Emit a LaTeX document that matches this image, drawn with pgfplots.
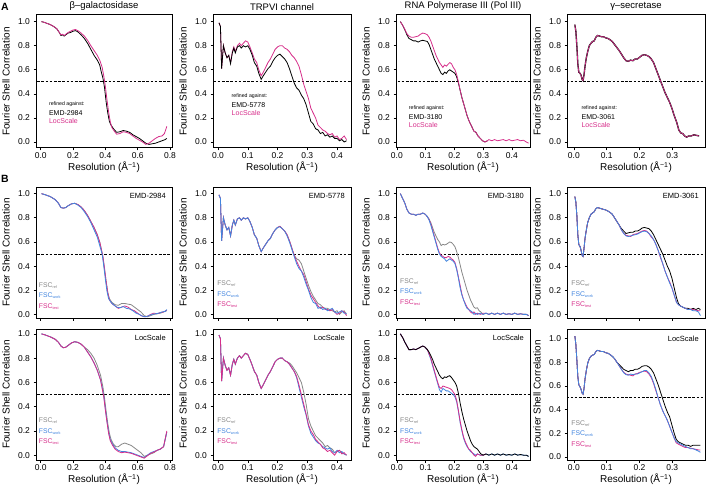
\documentclass[border=0pt]{standalone}
\usepackage{fontspec}
\setmainfont{Liberation Sans}
\usepackage{pgfplots}
\pgfplotsset{compat=1.18}

\definecolor{fscpink}{RGB}{214,46,138}
\definecolor{fscblue}{RGB}{66,133,222}
\definecolor{fscgray}{RGB}{135,135,135}

\pgfplotsset{
  fsc/.style={
    scale only axis,
    anchor=north west,
    axis line style={line width=1pt},
    tick align=outside,
    major tick length=2.5pt,
    tick style={black, line width=0.6pt},
    tick pos=left,
    ytick={0,0.2,0.4,0.6,0.8,1.0},
    /pgf/number format/assume math mode=true,
    xticklabel style={/pgf/number format/fixed,/pgf/number format/fixed zerofill,/pgf/number format/precision=1, yshift=1pt},
    yticklabel style={/pgf/number format/fixed,/pgf/number format/fixed zerofill,/pgf/number format/precision=1},
    ticklabel style={font=\fontsize{8.5}{9}\selectfont},
    label style={font=\fontsize{10}{11}\selectfont},
    title style={font=\fontsize{9.5}{11}\selectfont, yshift=-5pt},
    ylabel={Fourier Shell Correlation},
    ylabel style={yshift=1.5pt},
    xlabel style={yshift=4pt},
    every axis plot/.append style={line width=0.8pt, mark=none},
    clip=true,
  },
  col1/.style={at={(36pt,#1)}, width=136pt, xmin=-0.029, xmax=0.812, xtick={0,0.2,0.4,0.6,0.8}},
  col2/.style={at={(213pt,#1)}, width=138pt, xmin=-0.017, xmax=0.447, xtick={0,0.1,0.2,0.3,0.4}},
  col3/.style={at={(396pt,#1)}, width=134pt, xmin=-0.003, xmax=0.463, xtick={0,0.1,0.2,0.3,0.4}},
  col4/.style={at={(567pt,#1)}, width=138pt, xmin=-0.021, xmax=0.40, xtick={0,0.1,0.2,0.3}},
  rowA/.style={height=133pt, ymin=-0.05, ymax=1.055, xlabel={Resolution (Å\textsuperscript{−1})}},
  rowB/.style={height=131pt, ymin=-0.03, ymax=1.055, xticklabels={}},
  rowC/.style={height=131pt, ymin=-0.04, ymax=1.04, xlabel={Resolution (Å\textsuperscript{−1})}},
  half/.style={black, line width=1pt, dash pattern=on 2.6pt off 1.6pt},
}
\newcommand{\refd}[2]{%
  \node[anchor=west, font=\fontsize{5.2}{6}\selectfont] at (rel axis cs:#1,#2) {refined against:};}
\newcommand{\fscleg}[2]{%
  \node[anchor=west, inner sep=0pt, text=fscgray, font=\fontsize{6.8}{7}\selectfont] at (rel axis cs:#1,#2+0.16) {FSC\textsubscript{\fontsize{3.8}{4}\selectfont ref}};
  \node[anchor=west, inner sep=0pt, text=fscblue, font=\fontsize{6.8}{7}\selectfont] at (rel axis cs:#1,#2+0.08) {FSC\textsubscript{\fontsize{3.8}{4}\selectfont work}};
  \node[anchor=west, inner sep=0pt, text=fscpink, font=\fontsize{6.8}{7}\selectfont] at (rel axis cs:#1,#2) {FSC\textsubscript{\fontsize{3.8}{4}\selectfont test}};}

\begin{document}
\begin{tikzpicture}
\useasboundingbox (0,0) rectangle (708pt,-486pt);
\node[anchor=north west, inner sep=0pt, font=\bfseries\fontsize{10.5}{11}\selectfont] at (1pt,-3pt) {A};
\node[anchor=north west, inner sep=0pt, font=\bfseries\fontsize{10.5}{11}\selectfont] at (1pt,-175pt) {B};

%% ---------------- row A ----------------
\begin{axis}[fsc, col1=-15pt, rowA, title={β–galactosidase}]
\addplot[half] coordinates {(-0.1,0.5)(1,0.5)};
\addplot[black] coordinates {(0.005,1.0)(0.02,0.995)(0.04,0.985)(0.06,0.975)(0.08,0.96)(0.1,0.94)(0.115,0.91)(0.125,0.885)(0.135,0.89)(0.145,0.88)(0.155,0.89)(0.17,0.905)(0.185,0.91)(0.2,0.92)(0.215,0.925)(0.23,0.915)(0.25,0.89)(0.27,0.86)(0.29,0.82)(0.31,0.77)(0.33,0.72)(0.35,0.68)(0.365,0.64)(0.375,0.58)(0.385,0.53)(0.395,0.45)(0.405,0.33)(0.415,0.24)(0.425,0.17)(0.435,0.14)(0.45,0.11)(0.47,0.08)(0.49,0.085)(0.51,0.095)(0.53,0.09)(0.55,0.08)(0.57,0.06)(0.59,0.045)(0.61,0.03)(0.63,0.01)(0.65,-0.01)(0.67,-0.02)(0.69,-0.015)(0.71,-0.01)(0.73,0.0)(0.75,0.01)(0.77,0.02)(0.78,0.03)};
\addplot[fscpink] coordinates {(0.005,1.0)(0.02,0.995)(0.04,0.985)(0.06,0.975)(0.08,0.96)(0.1,0.94)(0.115,0.91)(0.125,0.89)(0.135,0.895)(0.145,0.885)(0.155,0.895)(0.17,0.91)(0.185,0.92)(0.2,0.93)(0.215,0.935)(0.23,0.925)(0.25,0.905)(0.27,0.88)(0.29,0.845)(0.31,0.8)(0.33,0.76)(0.35,0.72)(0.365,0.68)(0.38,0.62)(0.39,0.55)(0.4,0.46)(0.41,0.35)(0.42,0.25)(0.43,0.17)(0.44,0.12)(0.455,0.09)(0.47,0.065)(0.49,0.07)(0.51,0.085)(0.53,0.08)(0.55,0.07)(0.57,0.05)(0.59,0.03)(0.61,0.015)(0.63,0.0)(0.65,-0.02)(0.67,-0.01)(0.69,0.01)(0.71,0.03)(0.73,0.045)(0.75,0.05)(0.765,0.07)(0.78,0.13)};
\refd{0.07}{0.33}
\node[anchor=west, font=\fontsize{7}{8}\selectfont] at (rel axis cs:0.07,0.265) {EMD-2984};
\node[anchor=west, text=fscpink, font=\fontsize{7}{8}\selectfont] at (rel axis cs:0.07,0.205) {LocScale};
\end{axis}

\begin{axis}[fsc, col2=-15pt, rowA, title={TRPVI channel}]
\addplot[half] coordinates {(-0.1,0.5)(1,0.5)};
\addplot[fscpink] coordinates {(0.003,0.99)(0.008,0.96)(0.012,0.61)(0.018,0.80)(0.024,0.74)(0.03,0.70)(0.036,0.72)(0.042,0.66)(0.048,0.75)(0.053,0.79)(0.058,0.75)(0.065,0.8)(0.072,0.82)(0.078,0.8)(0.085,0.82)(0.092,0.84)(0.1,0.83)(0.107,0.79)(0.115,0.74)(0.122,0.69)(0.13,0.66)(0.137,0.6)(0.145,0.55)(0.152,0.58)(0.16,0.62)(0.168,0.66)(0.176,0.69)(0.184,0.73)(0.192,0.77)(0.2,0.79)(0.208,0.8)(0.216,0.8)(0.224,0.78)(0.232,0.77)(0.24,0.75)(0.248,0.72)(0.256,0.7)(0.264,0.67)(0.272,0.63)(0.28,0.56)(0.288,0.48)(0.296,0.42)(0.304,0.36)(0.312,0.28)(0.32,0.24)(0.328,0.2)(0.336,0.14)(0.344,0.12)(0.352,0.1)(0.36,0.09)(0.368,0.07)(0.376,0.06)(0.384,0.07)(0.392,0.04)(0.4,0.05)(0.408,0.02)(0.416,0.03)(0.424,0.05)(0.432,0.02)};
\addplot[black] coordinates {(0.003,0.99)(0.008,0.96)(0.012,0.61)(0.018,0.80)(0.024,0.74)(0.03,0.70)(0.036,0.72)(0.042,0.65)(0.048,0.74)(0.053,0.78)(0.058,0.74)(0.065,0.79)(0.072,0.8)(0.078,0.78)(0.085,0.8)(0.092,0.79)(0.1,0.8)(0.107,0.77)(0.115,0.72)(0.122,0.66)(0.13,0.63)(0.137,0.57)(0.145,0.52)(0.152,0.55)(0.16,0.58)(0.168,0.61)(0.176,0.63)(0.184,0.67)(0.192,0.70)(0.2,0.72)(0.208,0.73)(0.216,0.71)(0.224,0.69)(0.232,0.66)(0.24,0.61)(0.248,0.55)(0.256,0.49)(0.264,0.45)(0.272,0.43)(0.28,0.39)(0.288,0.36)(0.296,0.31)(0.304,0.24)(0.312,0.17)(0.32,0.15)(0.328,0.11)(0.336,0.1)(0.344,0.07)(0.352,0.08)(0.36,0.05)(0.368,0.06)(0.376,0.04)(0.384,0.05)(0.392,0.03)(0.4,0.03)(0.408,0.01)(0.416,0.02)(0.424,0.0)(0.432,0.01)};
\refd{0.11}{0.39}
\node[anchor=west, font=\fontsize{7}{8}\selectfont] at (rel axis cs:0.11,0.325) {EMD-5778};
\node[anchor=west, text=fscpink, font=\fontsize{7}{8}\selectfont] at (rel axis cs:0.11,0.265) {LocScale};
\end{axis}

\begin{axis}[fsc, col3=-15pt, rowA, title={RNA Polymerase III (Pol III)}]
\addplot[half] coordinates {(-0.1,0.5)(1,0.5)};
\addplot[black] coordinates {(0.012,1.0)(0.02,0.97)(0.028,0.93)(0.035,0.89)(0.042,0.86)(0.05,0.85)(0.058,0.84)(0.066,0.84)(0.074,0.83)(0.082,0.84)(0.09,0.845)(0.098,0.84)(0.106,0.835)(0.112,0.81)(0.118,0.77)(0.124,0.73)(0.13,0.69)(0.136,0.66)(0.142,0.63)(0.148,0.6)(0.154,0.57)(0.16,0.56)(0.166,0.58)(0.172,0.57)(0.178,0.59)(0.184,0.6)(0.19,0.59)(0.196,0.58)(0.202,0.57)(0.208,0.54)(0.214,0.49)(0.22,0.43)(0.226,0.37)(0.232,0.32)(0.238,0.27)(0.244,0.22)(0.25,0.18)(0.256,0.15)(0.262,0.12)(0.268,0.09)(0.275,0.08)(0.282,0.05)(0.29,0.03)(0.298,0.01)(0.306,0.0)(0.315,0.01)};
\addplot[fscpink] coordinates {(0.012,1.0)(0.02,0.97)(0.028,0.935)(0.035,0.9)(0.042,0.88)(0.05,0.87)(0.058,0.87)(0.066,0.875)(0.074,0.88)(0.082,0.895)(0.09,0.905)(0.098,0.9)(0.106,0.89)(0.112,0.87)(0.118,0.84)(0.124,0.8)(0.13,0.76)(0.136,0.72)(0.142,0.69)(0.148,0.66)(0.154,0.64)(0.16,0.62)(0.166,0.64)(0.172,0.63)(0.178,0.645)(0.184,0.66)(0.19,0.65)(0.196,0.62)(0.202,0.6)(0.208,0.56)(0.214,0.5)(0.22,0.43)(0.226,0.37)(0.232,0.32)(0.238,0.27)(0.244,0.22)(0.25,0.18)(0.256,0.15)(0.262,0.12)(0.268,0.09)(0.275,0.08)(0.282,0.05)(0.29,0.03)(0.298,0.01)(0.306,0.0)(0.315,0.01)(0.32,0.02)(0.33,0.01)(0.34,0.02)(0.35,0.01)(0.36,0.015)(0.37,0.02)(0.38,0.01)(0.39,0.02)(0.4,0.01)(0.41,0.015)(0.42,0.02)(0.43,0.01)(0.44,0.015)(0.45,0.0)(0.458,-0.01)};
\refd{0.07}{0.30}
\node[anchor=west, font=\fontsize{7}{8}\selectfont] at (rel axis cs:0.07,0.235) {EMD-3180};
\node[anchor=west, text=fscpink, font=\fontsize{7}{8}\selectfont] at (rel axis cs:0.07,0.175) {LocScale};
\end{axis}

\begin{axis}[fsc, col4=-15pt, rowA, title={γ–secretase}]
\addplot[half] coordinates {(-0.1,0.5)(1,0.5)};
\addplot[black, line width=1.3pt] coordinates {(0.003,0.975)(0.006,0.92)(0.009,0.8)(0.012,0.65)(0.015,0.58)(0.019,0.57)(0.022,0.555)(0.025,0.52)(0.028,0.51)(0.031,0.56)(0.034,0.63)(0.038,0.7)(0.042,0.75)(0.047,0.8)(0.052,0.82)(0.057,0.835)(0.062,0.84)(0.067,0.87)(0.072,0.885)(0.078,0.88)(0.084,0.875)(0.09,0.875)(0.097,0.865)(0.104,0.86)(0.11,0.85)(0.117,0.835)(0.124,0.81)(0.131,0.785)(0.138,0.76)(0.145,0.73)(0.152,0.7)(0.159,0.675)(0.166,0.67)(0.173,0.68)(0.18,0.675)(0.187,0.69)(0.194,0.69)(0.201,0.705)(0.208,0.72)(0.215,0.725)(0.222,0.72)(0.229,0.71)(0.236,0.69)(0.243,0.66)(0.25,0.61)(0.257,0.56)(0.264,0.51)(0.271,0.46)(0.278,0.41)(0.285,0.37)(0.292,0.33)(0.299,0.28)(0.306,0.22)(0.314,0.16)(0.32,0.1)(0.326,0.075)(0.332,0.07)(0.338,0.05)(0.344,0.04)(0.35,0.05)(0.358,0.05)(0.366,0.06)(0.374,0.055)(0.382,0.05)};
\addplot[fscpink, line width=0.7pt] coordinates {(0.003,0.975)(0.006,0.92)(0.009,0.8)(0.012,0.65)(0.015,0.58)(0.019,0.57)(0.022,0.555)(0.025,0.52)(0.028,0.51)(0.031,0.56)(0.034,0.63)(0.038,0.7)(0.042,0.75)(0.047,0.8)(0.052,0.82)(0.057,0.835)(0.062,0.84)(0.067,0.87)(0.072,0.885)(0.078,0.88)(0.084,0.875)(0.09,0.875)(0.097,0.865)(0.104,0.86)(0.11,0.85)(0.117,0.835)(0.124,0.81)(0.131,0.785)(0.138,0.76)(0.145,0.73)(0.152,0.7)(0.159,0.675)(0.166,0.67)(0.173,0.68)(0.18,0.675)(0.187,0.69)(0.194,0.69)(0.201,0.705)(0.208,0.72)(0.215,0.725)(0.222,0.72)(0.229,0.71)(0.236,0.69)(0.243,0.66)(0.25,0.61)(0.257,0.56)(0.264,0.51)(0.271,0.46)(0.278,0.41)(0.285,0.37)(0.292,0.33)(0.299,0.28)(0.306,0.22)(0.314,0.16)(0.32,0.1)(0.326,0.075)(0.332,0.07)(0.338,0.05)(0.344,0.04)(0.35,0.05)(0.358,0.05)(0.366,0.06)(0.374,0.055)(0.382,0.05)};
\refd{0.08}{0.30}
\node[anchor=west, font=\fontsize{7}{8}\selectfont] at (rel axis cs:0.08,0.235) {EMD-3061};
\node[anchor=west, text=fscpink, font=\fontsize{7}{8}\selectfont] at (rel axis cs:0.08,0.175) {LocScale};
\end{axis}

%% ---------------- row B (deposited maps) ----------------
\begin{axis}[fsc, col1=-187pt, rowB]
\addplot[half] coordinates {(-0.1,0.5)(1,0.5)};
\addplot[fscgray] coordinates {(0.005,1.0)(0.03,0.99)(0.06,0.975)(0.09,0.95)(0.11,0.92)(0.125,0.885)(0.14,0.88)(0.155,0.885)(0.17,0.9)(0.19,0.915)(0.21,0.92)(0.23,0.91)(0.25,0.89)(0.27,0.86)(0.29,0.82)(0.31,0.77)(0.33,0.72)(0.35,0.66)(0.365,0.6)(0.375,0.54)(0.385,0.47)(0.395,0.37)(0.405,0.27)(0.415,0.18)(0.425,0.13)(0.44,0.1)(0.46,0.08)(0.48,0.075)(0.5,0.09)(0.52,0.09)(0.54,0.085)(0.56,0.08)(0.58,0.06)(0.6,0.04)(0.62,0.02)(0.64,-0.01)(0.66,-0.02)(0.68,-0.01)(0.7,0.0)(0.72,0.005)(0.74,0.01)(0.76,0.02)(0.78,0.03)};
\addplot[fscpink] coordinates {(0.005,1.0)(0.03,0.99)(0.06,0.975)(0.09,0.95)(0.11,0.92)(0.125,0.885)(0.14,0.88)(0.155,0.885)(0.17,0.9)(0.19,0.915)(0.21,0.92)(0.23,0.91)(0.25,0.89)(0.27,0.86)(0.29,0.82)(0.31,0.77)(0.33,0.72)(0.35,0.66)(0.365,0.6)(0.375,0.54)(0.385,0.48)(0.395,0.38)(0.405,0.27)(0.415,0.18)(0.425,0.12)(0.44,0.09)(0.46,0.07)(0.48,0.05)(0.5,0.06)(0.52,0.07)(0.54,0.06)(0.56,0.04)(0.58,0.03)(0.6,0.01)(0.62,-0.01)(0.64,-0.02)(0.66,-0.015)(0.68,0.0)(0.7,0.01)(0.72,0.005)(0.74,0.015)(0.76,0.02)(0.78,0.035)};
\addplot[fscblue] coordinates {(0.005,1.0)(0.03,0.99)(0.06,0.975)(0.09,0.95)(0.11,0.92)(0.125,0.885)(0.14,0.88)(0.155,0.885)(0.17,0.9)(0.19,0.915)(0.21,0.92)(0.23,0.905)(0.25,0.885)(0.27,0.85)(0.29,0.81)(0.31,0.76)(0.33,0.7)(0.35,0.64)(0.365,0.57)(0.38,0.5)(0.39,0.4)(0.4,0.29)(0.41,0.19)(0.42,0.13)(0.435,0.1)(0.45,0.08)(0.47,0.06)(0.49,0.055)(0.51,0.065)(0.53,0.05)(0.55,0.045)(0.57,0.03)(0.59,0.01)(0.61,0.0)(0.63,-0.015)(0.65,-0.02)(0.67,-0.01)(0.69,0.0)(0.71,0.005)(0.73,0.01)(0.75,0.02)(0.77,0.025)(0.78,0.04)};
\node[anchor=north east, font=\fontsize{7.5}{8}\selectfont] at (rel axis cs:0.98,0.98) {EMD-2984};
\fscleg{0.02}{0.09}
\end{axis}

\begin{axis}[fsc, col2=-187pt, rowB]
\addplot[half] coordinates {(-0.1,0.5)(1,0.5)};
\addplot[fscgray] coordinates {(0.003,0.99)(0.008,0.96)(0.012,0.61)(0.018,0.80)(0.024,0.74)(0.03,0.70)(0.036,0.72)(0.042,0.65)(0.048,0.74)(0.053,0.78)(0.058,0.74)(0.065,0.79)(0.072,0.8)(0.078,0.78)(0.085,0.8)(0.092,0.79)(0.1,0.8)(0.107,0.77)(0.115,0.72)(0.122,0.66)(0.13,0.63)(0.137,0.57)(0.145,0.52)(0.152,0.55)(0.16,0.58)(0.168,0.61)(0.176,0.63)(0.184,0.67)(0.192,0.70)(0.2,0.72)(0.208,0.73)(0.216,0.71)(0.224,0.69)(0.232,0.66)(0.24,0.61)(0.248,0.55)(0.256,0.49)(0.264,0.46)(0.272,0.45)(0.28,0.42)(0.288,0.36)(0.296,0.3)(0.304,0.24)(0.312,0.19)(0.32,0.15)(0.328,0.12)(0.336,0.09)(0.344,0.08)(0.352,0.06)(0.36,0.05)(0.368,0.05)(0.376,0.04)(0.384,0.03)(0.392,0.02)(0.4,0.03)(0.408,0.0)(0.416,0.02)(0.424,0.03)(0.432,0.0)};
\addplot[fscpink] coordinates {(0.003,0.99)(0.008,0.96)(0.012,0.61)(0.018,0.80)(0.024,0.74)(0.03,0.70)(0.036,0.72)(0.042,0.65)(0.048,0.74)(0.053,0.78)(0.058,0.74)(0.065,0.79)(0.072,0.8)(0.078,0.78)(0.085,0.8)(0.092,0.79)(0.1,0.8)(0.107,0.77)(0.115,0.72)(0.122,0.66)(0.13,0.63)(0.137,0.57)(0.145,0.52)(0.152,0.55)(0.16,0.58)(0.168,0.61)(0.176,0.63)(0.184,0.67)(0.192,0.70)(0.2,0.72)(0.208,0.73)(0.216,0.71)(0.224,0.69)(0.232,0.66)(0.24,0.61)(0.248,0.55)(0.256,0.49)(0.264,0.44)(0.272,0.4)(0.28,0.36)(0.288,0.33)(0.296,0.27)(0.304,0.21)(0.312,0.16)(0.32,0.13)(0.328,0.1)(0.336,0.07)(0.344,0.05)(0.352,0.06)(0.36,0.04)(0.368,0.04)(0.376,0.03)(0.384,0.04)(0.392,0.02)(0.4,0.0)(0.408,0.01)(0.416,0.03)(0.424,0.02)(0.432,-0.01)};
\addplot[fscblue] coordinates {(0.003,0.99)(0.008,0.96)(0.012,0.61)(0.018,0.80)(0.024,0.74)(0.03,0.70)(0.036,0.72)(0.042,0.65)(0.048,0.74)(0.053,0.78)(0.058,0.74)(0.065,0.79)(0.072,0.8)(0.078,0.78)(0.085,0.8)(0.092,0.79)(0.1,0.8)(0.107,0.77)(0.115,0.72)(0.122,0.66)(0.13,0.63)(0.137,0.57)(0.145,0.52)(0.152,0.55)(0.16,0.58)(0.168,0.61)(0.176,0.63)(0.184,0.67)(0.192,0.70)(0.2,0.72)(0.208,0.725)(0.216,0.71)(0.224,0.69)(0.232,0.65)(0.24,0.6)(0.248,0.54)(0.256,0.48)(0.264,0.42)(0.272,0.38)(0.28,0.36)(0.288,0.31)(0.296,0.25)(0.304,0.2)(0.312,0.14)(0.32,0.1)(0.328,0.09)(0.336,0.05)(0.344,0.06)(0.352,0.04)(0.36,0.05)(0.368,0.03)(0.376,0.04)(0.384,0.05)(0.392,0.02)(0.4,0.01)(0.408,0.02)(0.416,0.03)(0.424,0.01)(0.432,0.01)};
\node[anchor=north east, font=\fontsize{7.5}{8}\selectfont] at (rel axis cs:0.98,0.98) {EMD-5778};
\fscleg{0.03}{0.1}
\end{axis}

\begin{axis}[fsc, col3=-187pt, rowB]
\addplot[half] coordinates {(-0.1,0.5)(1,0.5)};
\addplot[fscgray] coordinates {(0.012,1.0)(0.02,0.96)(0.028,0.92)(0.035,0.87)(0.042,0.84)(0.05,0.83)(0.058,0.83)(0.066,0.82)(0.074,0.83)(0.082,0.83)(0.09,0.84)(0.098,0.83)(0.106,0.81)(0.112,0.79)(0.118,0.76)(0.124,0.72)(0.13,0.68)(0.136,0.65)(0.142,0.62)(0.148,0.6)(0.154,0.57)(0.16,0.58)(0.166,0.575)(0.172,0.58)(0.178,0.59)(0.184,0.6)(0.19,0.595)(0.196,0.58)(0.202,0.56)(0.208,0.52)(0.214,0.47)(0.22,0.41)(0.226,0.35)(0.232,0.3)(0.238,0.25)(0.244,0.2)(0.25,0.16)(0.256,0.12)(0.262,0.09)(0.268,0.06)(0.274,0.05)(0.28,0.055)(0.286,0.03)(0.292,0.02)(0.3,0.0)(0.31,0.01)(0.32,0.0)(0.33,0.01)(0.34,0.0)(0.35,0.01)(0.36,0.0)(0.37,0.01)(0.38,0.0)(0.39,0.005)(0.4,0.0)(0.41,0.01)(0.42,0.0)(0.43,0.005)(0.44,0.0)(0.45,0.0)(0.458,-0.01)};
\addplot[fscpink] coordinates {(0.012,1.0)(0.02,0.96)(0.028,0.92)(0.035,0.87)(0.042,0.84)(0.05,0.83)(0.058,0.83)(0.066,0.82)(0.074,0.83)(0.082,0.83)(0.09,0.84)(0.098,0.83)(0.106,0.81)(0.112,0.785)(0.118,0.75)(0.124,0.7)(0.13,0.65)(0.136,0.6)(0.142,0.55)(0.148,0.51)(0.154,0.49)(0.16,0.48)(0.166,0.47)(0.172,0.47)(0.178,0.48)(0.184,0.475)(0.19,0.46)(0.196,0.45)(0.202,0.43)(0.208,0.38)(0.214,0.31)(0.22,0.24)(0.226,0.17)(0.232,0.12)(0.238,0.09)(0.244,0.06)(0.25,0.04)(0.256,0.02)(0.262,0.01)(0.268,0.02)(0.274,0.0)(0.28,0.01)(0.29,0.0)(0.3,0.01)(0.31,0.01)(0.32,0.0)(0.33,0.01)(0.34,0.0)(0.35,0.01)(0.36,0.0)(0.37,0.01)(0.38,0.0)(0.39,0.005)(0.4,0.0)(0.41,0.01)(0.42,0.0)(0.43,0.005)(0.44,0.0)(0.45,0.0)(0.458,-0.01)};
\addplot[fscblue] coordinates {(0.012,1.0)(0.02,0.96)(0.028,0.92)(0.035,0.87)(0.042,0.84)(0.05,0.83)(0.058,0.83)(0.066,0.82)(0.074,0.83)(0.082,0.83)(0.09,0.84)(0.098,0.83)(0.106,0.81)(0.112,0.78)(0.118,0.74)(0.124,0.69)(0.13,0.64)(0.136,0.59)(0.142,0.54)(0.148,0.5)(0.154,0.48)(0.16,0.47)(0.166,0.46)(0.172,0.44)(0.178,0.45)(0.184,0.46)(0.19,0.45)(0.196,0.44)(0.202,0.42)(0.208,0.37)(0.214,0.3)(0.22,0.22)(0.226,0.16)(0.232,0.12)(0.238,0.08)(0.244,0.05)(0.25,0.04)(0.256,0.03)(0.262,0.02)(0.268,0.0)(0.274,0.01)(0.28,0.0)(0.29,0.01)(0.3,0.0)(0.31,0.01)(0.32,0.0)(0.33,0.01)(0.34,0.0)(0.35,0.01)(0.36,0.0)(0.37,0.01)(0.38,0.0)(0.39,0.005)(0.4,0.0)(0.41,0.01)(0.42,0.0)(0.43,0.005)(0.44,0.0)(0.45,0.0)(0.458,-0.01)};
\node[anchor=north east, font=\fontsize{7.5}{8}\selectfont] at (rel axis cs:0.98,0.98) {EMD-3180};
\fscleg{0.03}{0.12}
\end{axis}

\begin{axis}[fsc, col4=-187pt, rowB]
\addplot[half] coordinates {(-0.1,0.5)(1,0.5)};
\addplot[black] coordinates {(0.003,0.975)(0.006,0.93)(0.009,0.82)(0.012,0.66)(0.015,0.58)(0.019,0.56)(0.022,0.53)(0.025,0.49)(0.028,0.48)(0.031,0.55)(0.034,0.63)(0.038,0.7)(0.042,0.76)(0.047,0.8)(0.052,0.83)(0.057,0.84)(0.062,0.85)(0.067,0.875)(0.072,0.885)(0.078,0.88)(0.084,0.875)(0.09,0.87)(0.097,0.865)(0.104,0.855)(0.11,0.845)(0.117,0.83)(0.124,0.8)(0.131,0.77)(0.138,0.74)(0.145,0.71)(0.152,0.69)(0.159,0.67)(0.166,0.675)(0.173,0.68)(0.18,0.68)(0.187,0.69)(0.194,0.69)(0.201,0.7)(0.208,0.715)(0.215,0.72)(0.222,0.715)(0.229,0.71)(0.236,0.69)(0.243,0.66)(0.25,0.62)(0.257,0.58)(0.264,0.54)(0.271,0.5)(0.278,0.45)(0.285,0.4)(0.292,0.36)(0.299,0.3)(0.306,0.22)(0.313,0.14)(0.319,0.09)(0.325,0.07)(0.332,0.06)(0.34,0.05)(0.348,0.05)(0.356,0.04)(0.364,0.05)(0.372,0.04)(0.38,0.05)(0.386,0.04)};
\addplot[fscpink] coordinates {(0.003,0.975)(0.006,0.93)(0.009,0.82)(0.012,0.66)(0.015,0.58)(0.019,0.56)(0.022,0.53)(0.025,0.49)(0.028,0.48)(0.031,0.55)(0.034,0.63)(0.038,0.7)(0.042,0.76)(0.047,0.8)(0.052,0.83)(0.057,0.84)(0.062,0.85)(0.067,0.875)(0.072,0.885)(0.078,0.88)(0.084,0.875)(0.09,0.87)(0.097,0.865)(0.104,0.855)(0.11,0.845)(0.117,0.83)(0.124,0.8)(0.131,0.77)(0.138,0.74)(0.145,0.7)(0.152,0.67)(0.159,0.655)(0.166,0.65)(0.173,0.645)(0.18,0.66)(0.187,0.665)(0.194,0.67)(0.201,0.68)(0.208,0.69)(0.215,0.695)(0.222,0.69)(0.229,0.67)(0.236,0.64)(0.243,0.62)(0.25,0.58)(0.257,0.53)(0.264,0.47)(0.271,0.42)(0.278,0.36)(0.285,0.31)(0.292,0.27)(0.299,0.22)(0.306,0.16)(0.313,0.1)(0.319,0.08)(0.325,0.07)(0.332,0.06)(0.34,0.05)(0.348,0.04)(0.356,0.045)(0.364,0.04)(0.372,0.035)(0.38,0.03)(0.386,0.03)};
\addplot[fscblue] coordinates {(0.003,0.975)(0.006,0.93)(0.009,0.82)(0.012,0.66)(0.015,0.58)(0.019,0.56)(0.022,0.53)(0.025,0.49)(0.028,0.48)(0.031,0.55)(0.034,0.63)(0.038,0.7)(0.042,0.76)(0.047,0.8)(0.052,0.83)(0.057,0.84)(0.062,0.85)(0.067,0.875)(0.072,0.885)(0.078,0.88)(0.084,0.875)(0.09,0.87)(0.097,0.865)(0.104,0.855)(0.11,0.845)(0.117,0.83)(0.124,0.8)(0.131,0.77)(0.138,0.74)(0.145,0.7)(0.152,0.67)(0.159,0.65)(0.166,0.645)(0.173,0.65)(0.18,0.655)(0.187,0.66)(0.194,0.665)(0.201,0.675)(0.208,0.685)(0.215,0.69)(0.222,0.685)(0.229,0.67)(0.236,0.65)(0.243,0.62)(0.25,0.58)(0.257,0.53)(0.264,0.48)(0.271,0.42)(0.278,0.36)(0.285,0.31)(0.292,0.26)(0.299,0.22)(0.306,0.16)(0.313,0.1)(0.319,0.08)(0.325,0.07)(0.332,0.06)(0.34,0.05)(0.348,0.04)(0.356,0.04)(0.364,0.03)(0.372,0.03)(0.38,0.02)(0.386,-0.01)};
\node[anchor=north east, font=\fontsize{7.5}{8}\selectfont] at (rel axis cs:0.98,0.98) {EMD-3061};
\fscleg{0.03}{0.1}
\end{axis}

%% ---------------- row B (LocScale maps) ----------------
\begin{axis}[fsc, col1=-329pt, rowC]
\addplot[half] coordinates {(-0.1,0.5)(1,0.5)};
\addplot[fscgray] coordinates {(0.005,1.0)(0.03,0.99)(0.06,0.975)(0.09,0.955)(0.11,0.93)(0.125,0.9)(0.14,0.885)(0.155,0.89)(0.17,0.905)(0.19,0.925)(0.21,0.935)(0.23,0.93)(0.25,0.915)(0.27,0.89)(0.29,0.87)(0.31,0.84)(0.33,0.8)(0.35,0.74)(0.37,0.66)(0.385,0.56)(0.395,0.47)(0.405,0.36)(0.415,0.26)(0.425,0.18)(0.435,0.13)(0.45,0.09)(0.465,0.07)(0.48,0.07)(0.5,0.09)(0.52,0.1)(0.54,0.09)(0.56,0.08)(0.58,0.06)(0.6,0.04)(0.62,0.02)(0.64,-0.01)(0.66,0.0)(0.68,0.01)(0.7,0.02)(0.72,0.04)(0.74,0.05)(0.76,0.07)(0.78,0.19)};
\addplot[fscblue] coordinates {(0.005,1.0)(0.03,0.99)(0.06,0.975)(0.09,0.955)(0.11,0.93)(0.125,0.9)(0.14,0.885)(0.155,0.89)(0.17,0.905)(0.19,0.925)(0.21,0.935)(0.23,0.93)(0.25,0.915)(0.27,0.89)(0.29,0.85)(0.31,0.81)(0.33,0.76)(0.35,0.7)(0.37,0.62)(0.38,0.56)(0.39,0.49)(0.4,0.38)(0.41,0.28)(0.42,0.19)(0.43,0.13)(0.445,0.09)(0.46,0.06)(0.48,0.04)(0.5,0.03)(0.52,0.03)(0.54,0.025)(0.56,0.02)(0.58,0.01)(0.6,0.0)(0.62,-0.01)(0.64,-0.02)(0.66,0.0)(0.68,0.02)(0.7,0.03)(0.72,0.04)(0.74,0.05)(0.76,0.07)(0.78,0.19)};
\addplot[fscpink] coordinates {(0.005,1.0)(0.03,0.99)(0.06,0.975)(0.09,0.955)(0.11,0.93)(0.125,0.9)(0.14,0.885)(0.155,0.89)(0.17,0.905)(0.19,0.925)(0.21,0.935)(0.23,0.93)(0.25,0.915)(0.27,0.89)(0.29,0.85)(0.31,0.81)(0.33,0.76)(0.35,0.7)(0.37,0.62)(0.38,0.55)(0.39,0.48)(0.4,0.37)(0.41,0.27)(0.42,0.18)(0.43,0.12)(0.445,0.08)(0.46,0.05)(0.48,0.03)(0.5,0.02)(0.52,0.025)(0.54,0.02)(0.56,0.015)(0.58,0.005)(0.6,-0.005)(0.62,-0.015)(0.64,-0.025)(0.66,-0.005)(0.68,0.015)(0.7,0.025)(0.72,0.04)(0.74,0.05)(0.76,0.07)(0.78,0.2)};
\node[anchor=north east, font=\fontsize{7.5}{8}\selectfont] at (rel axis cs:0.98,0.98) {LocScale};
\fscleg{0.02}{0.14}
\end{axis}

\begin{axis}[fsc, col2=-329pt, rowC]
\addplot[half] coordinates {(-0.1,0.5)(1,0.5)};
\addplot[fscgray] coordinates {(0.003,0.99)(0.008,0.96)(0.012,0.61)(0.018,0.80)(0.024,0.74)(0.03,0.70)(0.036,0.72)(0.042,0.66)(0.048,0.75)(0.053,0.79)(0.058,0.75)(0.065,0.8)(0.072,0.82)(0.078,0.8)(0.085,0.82)(0.092,0.84)(0.1,0.83)(0.107,0.79)(0.115,0.74)(0.122,0.69)(0.13,0.66)(0.137,0.6)(0.145,0.55)(0.152,0.58)(0.16,0.62)(0.168,0.66)(0.176,0.69)(0.184,0.73)(0.192,0.77)(0.2,0.79)(0.208,0.8)(0.216,0.8)(0.224,0.78)(0.232,0.77)(0.24,0.76)(0.248,0.74)(0.256,0.71)(0.264,0.68)(0.272,0.64)(0.28,0.6)(0.288,0.52)(0.296,0.42)(0.304,0.3)(0.312,0.24)(0.32,0.2)(0.328,0.16)(0.336,0.14)(0.344,0.12)(0.352,0.1)(0.36,0.07)(0.368,0.08)(0.376,0.06)(0.384,0.05)(0.392,0.02)(0.4,0.03)(0.408,0.04)(0.416,0.02)(0.424,0.01)(0.432,0.0)};
\addplot[fscblue] coordinates {(0.003,0.99)(0.008,0.96)(0.012,0.61)(0.018,0.80)(0.024,0.74)(0.03,0.70)(0.036,0.72)(0.042,0.66)(0.048,0.75)(0.053,0.79)(0.058,0.75)(0.065,0.8)(0.072,0.82)(0.078,0.8)(0.085,0.82)(0.092,0.84)(0.1,0.83)(0.107,0.79)(0.115,0.74)(0.122,0.69)(0.13,0.66)(0.137,0.6)(0.145,0.55)(0.152,0.58)(0.16,0.62)(0.168,0.66)(0.176,0.69)(0.184,0.73)(0.192,0.77)(0.2,0.79)(0.208,0.8)(0.216,0.8)(0.224,0.78)(0.232,0.77)(0.24,0.75)(0.248,0.72)(0.256,0.69)(0.264,0.64)(0.272,0.56)(0.28,0.48)(0.288,0.4)(0.296,0.33)(0.304,0.24)(0.312,0.18)(0.32,0.15)(0.328,0.12)(0.336,0.1)(0.344,0.09)(0.352,0.07)(0.36,0.06)(0.368,0.05)(0.376,0.06)(0.384,0.03)(0.392,0.02)(0.4,0.04)(0.408,0.02)(0.416,0.03)(0.424,0.01)(0.432,0.0)};
\addplot[fscpink] coordinates {(0.003,0.99)(0.008,0.96)(0.012,0.61)(0.018,0.80)(0.024,0.74)(0.03,0.70)(0.036,0.72)(0.042,0.66)(0.048,0.75)(0.053,0.79)(0.058,0.75)(0.065,0.8)(0.072,0.82)(0.078,0.8)(0.085,0.82)(0.092,0.84)(0.1,0.83)(0.107,0.79)(0.115,0.74)(0.122,0.69)(0.13,0.66)(0.137,0.6)(0.145,0.55)(0.152,0.58)(0.16,0.62)(0.168,0.66)(0.176,0.69)(0.184,0.73)(0.192,0.77)(0.2,0.79)(0.208,0.8)(0.216,0.8)(0.224,0.78)(0.232,0.77)(0.24,0.75)(0.248,0.72)(0.256,0.69)(0.264,0.65)(0.272,0.58)(0.28,0.5)(0.288,0.42)(0.296,0.34)(0.304,0.25)(0.312,0.2)(0.32,0.17)(0.328,0.13)(0.336,0.11)(0.344,0.09)(0.352,0.06)(0.36,0.05)(0.368,0.03)(0.376,0.04)(0.384,0.02)(0.392,0.0)(0.4,0.03)(0.408,0.04)(0.416,0.01)(0.424,0.02)(0.432,0.0)};
\node[anchor=north east, font=\fontsize{7.5}{8}\selectfont] at (rel axis cs:0.98,0.98) {LocScale};
\fscleg{0.03}{0.14}
\end{axis}

\begin{axis}[fsc, col3=-329pt, rowC]
\addplot[half] coordinates {(-0.1,0.5)(1,0.5)};
\addplot[fscblue] coordinates {(0.012,1.0)(0.02,0.97)(0.028,0.93)(0.035,0.9)(0.042,0.87)(0.05,0.87)(0.058,0.875)(0.066,0.87)(0.074,0.88)(0.082,0.89)(0.09,0.9)(0.098,0.89)(0.106,0.87)(0.112,0.83)(0.118,0.79)(0.124,0.74)(0.13,0.69)(0.136,0.64)(0.142,0.59)(0.148,0.54)(0.154,0.52)(0.16,0.55)(0.166,0.54)(0.172,0.53)(0.178,0.53)(0.184,0.52)(0.19,0.51)(0.196,0.5)(0.202,0.48)(0.208,0.44)(0.214,0.36)(0.22,0.27)(0.226,0.2)(0.232,0.14)(0.238,0.1)(0.244,0.07)(0.25,0.05)(0.256,0.03)(0.262,0.02)(0.268,0.01)(0.274,0.0)(0.28,0.01)(0.29,0.0)(0.3,0.0)(0.31,0.01)(0.32,0.0)(0.33,0.01)(0.34,0.0)(0.35,0.01)(0.36,0.0)(0.37,0.01)(0.38,0.0)(0.39,0.005)(0.4,0.0)(0.41,0.01)(0.42,0.0)(0.43,0.005)(0.44,0.0)(0.45,0.0)(0.458,-0.01)};
\addplot[fscpink] coordinates {(0.012,1.0)(0.02,0.97)(0.028,0.93)(0.035,0.9)(0.042,0.87)(0.05,0.87)(0.058,0.875)(0.066,0.87)(0.074,0.88)(0.082,0.89)(0.09,0.9)(0.098,0.89)(0.106,0.87)(0.112,0.835)(0.118,0.8)(0.124,0.75)(0.13,0.7)(0.136,0.65)(0.142,0.6)(0.148,0.56)(0.154,0.55)(0.16,0.57)(0.166,0.565)(0.172,0.56)(0.178,0.555)(0.184,0.55)(0.19,0.54)(0.196,0.52)(0.202,0.5)(0.208,0.45)(0.214,0.37)(0.22,0.28)(0.226,0.21)(0.232,0.15)(0.238,0.11)(0.244,0.08)(0.25,0.05)(0.256,0.04)(0.262,0.02)(0.268,0.0)(0.274,-0.01)(0.28,0.01)(0.29,0.0)(0.3,0.0)(0.31,0.01)};
\addplot[black] coordinates {(0.012,1.0)(0.02,0.97)(0.028,0.93)(0.035,0.9)(0.042,0.87)(0.05,0.87)(0.058,0.875)(0.066,0.87)(0.074,0.88)(0.082,0.89)(0.09,0.9)(0.098,0.89)(0.106,0.87)(0.112,0.85)(0.118,0.82)(0.124,0.79)(0.13,0.75)(0.136,0.72)(0.142,0.69)(0.148,0.66)(0.154,0.64)(0.16,0.63)(0.166,0.645)(0.172,0.64)(0.178,0.65)(0.184,0.655)(0.19,0.64)(0.196,0.62)(0.202,0.6)(0.208,0.57)(0.214,0.51)(0.22,0.43)(0.226,0.36)(0.232,0.3)(0.238,0.25)(0.244,0.2)(0.25,0.16)(0.256,0.12)(0.262,0.09)(0.268,0.07)(0.274,0.06)(0.28,0.05)(0.286,0.03)(0.292,0.01)(0.3,0.0)(0.31,0.01)(0.32,0.0)(0.33,0.01)(0.34,0.0)(0.35,0.01)(0.36,0.0)(0.37,0.01)(0.38,0.0)(0.39,0.005)(0.4,0.0)(0.41,0.01)(0.42,0.0)(0.43,0.005)(0.44,0.0)(0.45,0.0)(0.458,-0.01)};
\node[anchor=north east, font=\fontsize{7.5}{8}\selectfont] at (rel axis cs:0.98,0.98) {LocScale};
\fscleg{0.03}{0.14}
\end{axis}

\begin{axis}[fsc, col4=-329pt, rowC, ymin=-0.025, ymax=1.08]
\addplot[half] coordinates {(-0.1,0.5)(1,0.5)};
\addplot[black] coordinates {(0.003,1.02)(0.006,0.95)(0.009,0.82)(0.012,0.68)(0.015,0.61)(0.019,0.59)(0.022,0.57)(0.025,0.54)(0.028,0.53)(0.031,0.58)(0.034,0.66)(0.038,0.73)(0.042,0.79)(0.047,0.83)(0.052,0.85)(0.057,0.86)(0.062,0.865)(0.067,0.89)(0.072,0.9)(0.078,0.895)(0.084,0.89)(0.09,0.89)(0.097,0.88)(0.104,0.875)(0.11,0.865)(0.117,0.85)(0.124,0.83)(0.131,0.8)(0.138,0.78)(0.145,0.76)(0.152,0.74)(0.159,0.73)(0.166,0.72)(0.173,0.73)(0.18,0.73)(0.187,0.74)(0.194,0.74)(0.201,0.75)(0.208,0.765)(0.215,0.77)(0.222,0.77)(0.229,0.76)(0.236,0.74)(0.243,0.71)(0.25,0.66)(0.257,0.61)(0.264,0.55)(0.271,0.49)(0.278,0.43)(0.285,0.38)(0.292,0.34)(0.299,0.27)(0.306,0.2)(0.312,0.15)(0.318,0.13)(0.325,0.12)(0.332,0.11)(0.34,0.1)(0.348,0.1)(0.356,0.09)(0.364,0.1)(0.372,0.1)(0.38,0.1)(0.386,0.1)};
\addplot[fscpink] coordinates {(0.003,1.02)(0.006,0.95)(0.009,0.82)(0.012,0.68)(0.015,0.61)(0.019,0.59)(0.022,0.57)(0.025,0.54)(0.028,0.53)(0.031,0.58)(0.034,0.66)(0.038,0.73)(0.042,0.79)(0.047,0.83)(0.052,0.85)(0.057,0.86)(0.062,0.865)(0.067,0.89)(0.072,0.9)(0.078,0.895)(0.084,0.89)(0.09,0.89)(0.097,0.88)(0.104,0.875)(0.11,0.865)(0.117,0.85)(0.124,0.83)(0.131,0.8)(0.138,0.77)(0.145,0.74)(0.152,0.715)(0.159,0.7)(0.166,0.695)(0.173,0.69)(0.18,0.685)(0.187,0.7)(0.194,0.705)(0.201,0.715)(0.208,0.72)(0.215,0.725)(0.222,0.72)(0.229,0.7)(0.236,0.67)(0.243,0.62)(0.25,0.56)(0.257,0.5)(0.264,0.44)(0.271,0.39)(0.278,0.35)(0.285,0.31)(0.292,0.26)(0.299,0.21)(0.306,0.16)(0.312,0.12)(0.318,0.11)(0.325,0.1)(0.332,0.09)(0.34,0.08)(0.348,0.08)(0.356,0.075)(0.364,0.07)(0.372,0.065)(0.38,0.06)(0.386,0.06)};
\addplot[fscblue] coordinates {(0.003,1.02)(0.006,0.95)(0.009,0.82)(0.012,0.68)(0.015,0.61)(0.019,0.59)(0.022,0.57)(0.025,0.54)(0.028,0.53)(0.031,0.58)(0.034,0.66)(0.038,0.73)(0.042,0.79)(0.047,0.83)(0.052,0.85)(0.057,0.86)(0.062,0.865)(0.067,0.89)(0.072,0.9)(0.078,0.895)(0.084,0.89)(0.09,0.89)(0.097,0.88)(0.104,0.875)(0.11,0.865)(0.117,0.85)(0.124,0.83)(0.131,0.8)(0.138,0.77)(0.145,0.74)(0.152,0.71)(0.159,0.695)(0.166,0.69)(0.173,0.7)(0.18,0.695)(0.187,0.7)(0.194,0.7)(0.201,0.71)(0.208,0.72)(0.215,0.73)(0.222,0.73)(0.229,0.71)(0.236,0.68)(0.243,0.63)(0.25,0.57)(0.257,0.5)(0.264,0.44)(0.271,0.39)(0.278,0.35)(0.285,0.31)(0.292,0.26)(0.299,0.21)(0.306,0.16)(0.312,0.13)(0.318,0.12)(0.325,0.11)(0.332,0.1)(0.34,0.09)(0.348,0.08)(0.356,0.07)(0.364,0.07)(0.372,0.06)(0.38,0.05)(0.386,0.04)};
\node[anchor=north east, font=\fontsize{7.5}{8}\selectfont] at (rel axis cs:0.98,0.97) {LocScale};
\fscleg{0.03}{0.12}
\end{axis}
\end{tikzpicture}
\end{document}
